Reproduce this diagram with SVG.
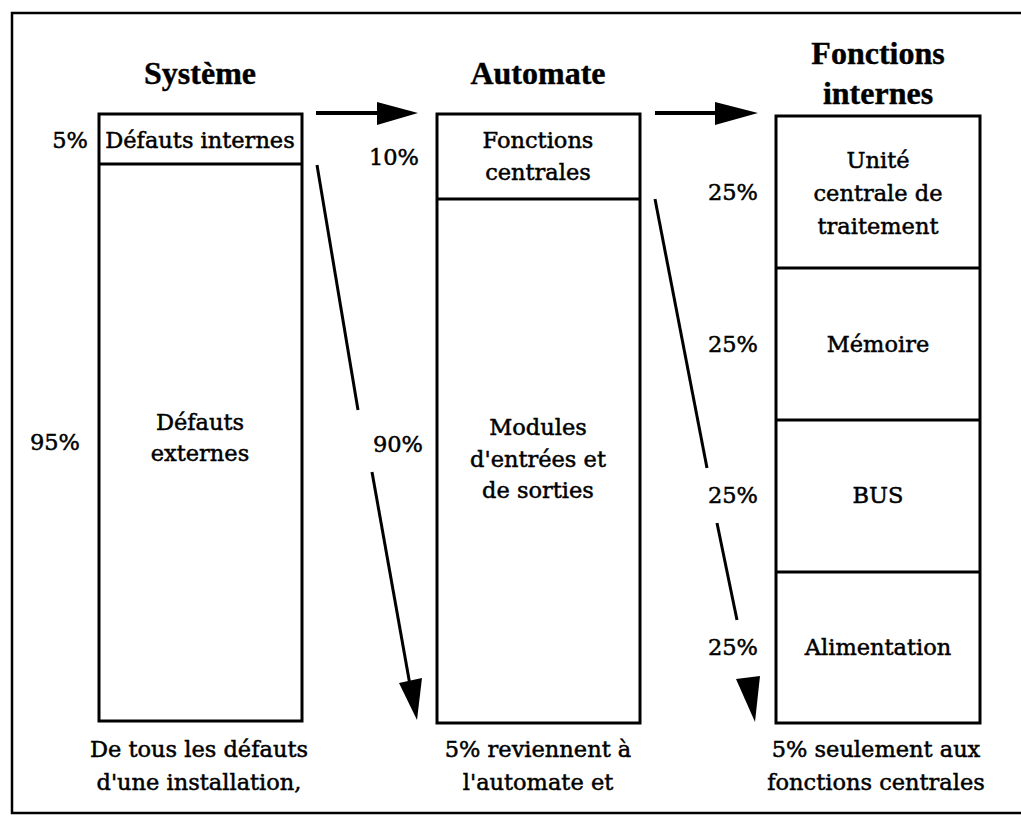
<svg xmlns="http://www.w3.org/2000/svg" width="1021" height="824" viewBox="0 0 1021 824">
  <style>
    .frame { fill: none; stroke: #000; stroke-width: 2.5; }
    .box { fill: #fff; stroke: #000; stroke-width: 3; }
    .div { stroke: #000; stroke-width: 3; }
    .title { font-family: "Liberation Serif", serif; font-weight: bold; font-size: 32px; text-anchor: middle; fill: #000; stroke: #000; stroke-width: 0.4; }
    .lbl { font-family: "DejaVu Serif", "Liberation Serif", serif; font-size: 22.5px; text-anchor: middle; fill: #000; stroke: #000; stroke-width: 0.5; }
    .pct { font-family: "DejaVu Serif", "Liberation Serif", serif; font-size: 22.5px; text-anchor: end; fill: #000; stroke: #000; stroke-width: 0.5; }
    .conn { stroke: #000; stroke-width: 3; fill: none; }
    .hconn { stroke: #000; stroke-width: 4; fill: none; }
    .head { fill: #000; stroke: none; }
  </style>

  <rect width="1021" height="824" fill="#fff"/>

  <!-- outer frame (open on the right) -->
  <path class="frame" d="M1021,13 H12 V813 H1021"/>

  <!-- column titles -->
  <text class="title" x="200" y="84">Système</text>
  <text class="title" x="538" y="84">Automate</text>
  <text class="title" x="878" y="64">Fonctions</text>
  <text class="title" x="878" y="104">internes</text>

  <g id="systeme">
    <rect class="box" x="99" y="114" width="203" height="607"/>
    <line class="div" x1="99" y1="164" x2="302" y2="164"/>
    <text class="lbl" x="200" y="148">Défauts internes</text>
    <text class="lbl" x="200" y="430">Défauts</text>
    <text class="lbl" x="200" y="461">externes</text>
    <text class="pct" x="88" y="148">5%</text>
    <text class="pct" x="80" y="450">95%</text>
    <text class="lbl" x="199" y="757">De tous les défauts</text>
    <text class="lbl" x="199" y="790">d'une installation,</text>
  </g>

  <g id="automate">
    <rect class="box" x="437" y="114" width="203" height="609"/>
    <line class="div" x1="437" y1="199" x2="640" y2="199"/>
    <text class="lbl" x="538" y="148">Fonctions</text>
    <text class="lbl" x="538" y="180">centrales</text>
    <text class="lbl" x="538" y="435">Modules</text>
    <text class="lbl" x="538" y="467">d'entrées et</text>
    <text class="lbl" x="538" y="498">de sorties</text>
    <text class="pct" x="419" y="165">10%</text>
    <text class="pct" x="423" y="452">90%</text>
    <text class="lbl" x="538" y="757">5% reviennent à</text>
    <text class="lbl" x="538" y="790">l'automate et</text>
  </g>

  <g id="fonctions-internes">
    <rect class="box" x="776" y="116" width="204" height="607"/>
    <line class="div" x1="776" y1="268" x2="980" y2="268"/>
    <line class="div" x1="776" y1="420" x2="980" y2="420"/>
    <line class="div" x1="776" y1="572" x2="980" y2="572"/>
    <text class="lbl" x="878" y="168">Unité</text>
    <text class="lbl" x="878" y="201">centrale de</text>
    <text class="lbl" x="878" y="234">traitement</text>
    <text class="lbl" x="878" y="352">Mémoire</text>
    <text class="lbl" x="878" y="503">BUS</text>
    <text class="lbl" x="878" y="655">Alimentation</text>
    <text class="pct" x="758" y="200">25%</text>
    <text class="pct" x="758" y="352">25%</text>
    <text class="pct" x="758" y="503">25%</text>
    <text class="pct" x="758" y="655">25%</text>
    <text class="lbl" x="876" y="757">5% seulement aux</text>
    <text class="lbl" x="876" y="790">fonctions centrales</text>
  </g>

  <g id="connectors">
    <!-- horizontal flow arrows -->
    <line class="hconn" x1="316" y1="113" x2="380" y2="113"/>
    <polygon class="head" points="377,102 418,113 377,125"/>
    <line class="hconn" x1="655" y1="113" x2="718" y2="113"/>
    <polygon class="head" points="715,102 758,113 715,125"/>

    <!-- descending arrow, Système side -->
    <line class="conn" x1="317" y1="165" x2="358" y2="410"/>
    <line class="conn" x1="372" y1="472" x2="410" y2="685"/>
    <polygon class="head" points="399,683 422,678 417,720"/>

    <!-- descending arrow, Automate side -->
    <line class="conn" x1="655" y1="199" x2="707" y2="468"/>
    <line class="conn" x1="717" y1="523" x2="737" y2="620"/>
    <polygon class="head" points="736,679 760,676 755,722"/>
  </g>
</svg>
